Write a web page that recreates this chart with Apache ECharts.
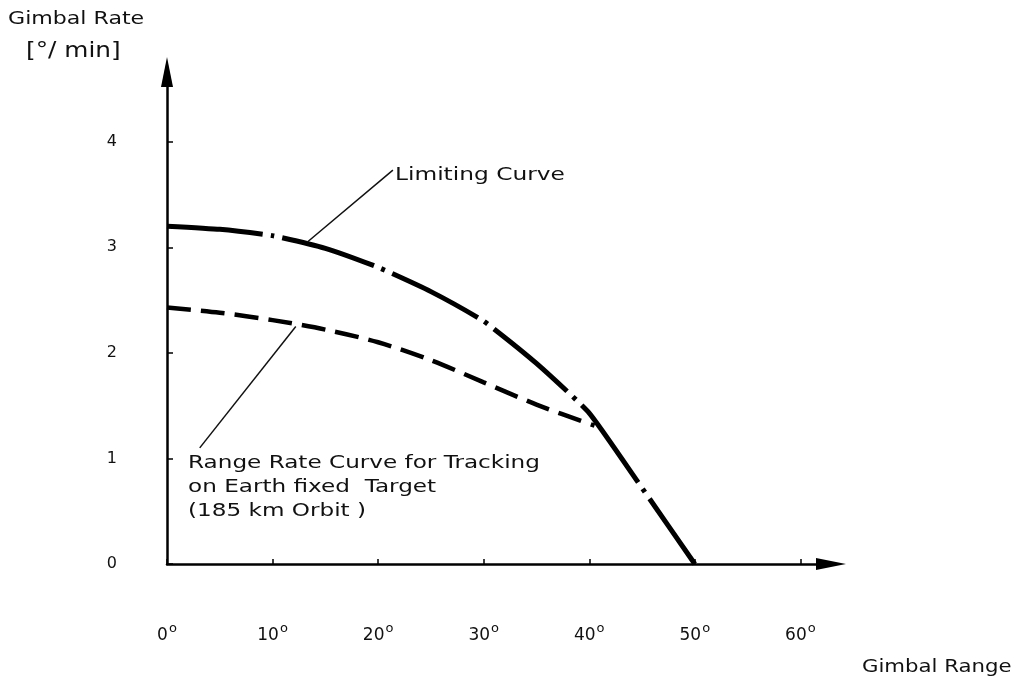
<!DOCTYPE html>
<html>
<head>
<meta charset="utf-8">
<script src="https://cdn.jsdelivr.net/npm/echarts@6/dist/echarts.min.js"></script>
<style>
  html, body { margin: 0; padding: 0; background: #fff; }
  #chart { width: 1022px; height: 685px; }
</style>
</head>
<body>
<div id="chart"></div>
<script>
  // gimbal range [deg] vs gimbal rate [deg/min]
  const limitX = [0, 5, 10, 15, 20, 25, 30, 35, 40, 45, 50]
  const limitY = [3.2, 3.17, 3.11, 2.99, 2.81, 2.58, 2.3, 1.9, 1.43, 0.72, 0]
  const trackX = [0, 5, 10, 15, 20, 25, 30, 35, 40.5]
  const trackY = [2.43, 2.38, 2.31, 2.22, 2.1, 1.93, 1.72, 1.51, 1.31]
  const xTicks = [0, 10, 20, 30, 40, 50, 60]
  const yTicks = [0, 1, 2, 3, 4]
  // leader lines, in data units
  const limitLeader = [[13.3, 3.05], [21.4, 3.73]]
  const trackLeader = [[12.2, 2.25], [3.1, 1.1]]

  const font = 'DejaVu Sans'
  const ink = '#111'

  const chart = echarts.init(document.getElementById('chart'), null, { renderer: 'canvas' })

  const pairs = (xs, ys) => xs.map((x, i) => [x, ys[i]])
  const leader = (p) => ({
    silent: true,
    symbol: 'none',
    animation: false,
    label: { show: false },
    lineStyle: { color: ink, width: 1.5, type: 'solid' },
    emphasis: { disabled: true },
    data: [[{ coord: p[0] }, { coord: p[1] }]]
  })
  // wide lettering of the original, stretched sideways
  const note = (text, x, y, size, sx, lh) => ({
    type: 'text', x: x, y: y, scaleX: sx,
    style: { text: text, font: size + 'px "DejaVu Sans"', fill: ink, lineHeight: lh || size, verticalAlign: 'top' }
  })

  chart.setOption({
    animation: false,
    grid: { left: 167, right: 191, top: 72, bottom: 121 },
    xAxis: {
      type: 'value',
      min: 0,
      max: 62.9,
      interval: 10,
      splitLine: { show: false },
      axisLine: {
        lineStyle: { color: '#000', width: 2.5 },
        symbol: ['none', 'triangle'],
        symbolSize: [12, 30]
      },
      axisTick: { inside: true, length: 5, lineStyle: { color: '#000', width: 1.5 }, customValues: xTicks },
      axisLabel: {
        customValues: xTicks,
        margin: 58,
        formatter: v => '{n|' + v + '}{s|o}',
        rich: {
          n: { fontFamily: font, fontSize: 17, color: ink },
          s: { fontFamily: font, fontSize: 13, color: ink, padding: [0, 0, 15, 1] }
        }
      }
    },
    yAxis: {
      type: 'value',
      min: 0,
      max: 4.66,
      interval: 1,
      splitLine: { show: false },
      axisLine: {
        lineStyle: { color: '#000', width: 2.5 },
        symbol: ['none', 'triangle'],
        symbolSize: [12, 30]
      },
      axisTick: { inside: true, length: 6, lineStyle: { color: '#000', width: 1.5 }, customValues: yTicks },
      axisLabel: {
        customValues: yTicks,
        margin: 50,
        fontFamily: font,
        fontSize: 16,
        color: ink
      }
    },
    series: [
      {
        name: 'Limiting Curve',
        type: 'line',
        data: pairs(limitX, limitY),
        showSymbol: false,
        smooth: 0.15,
        lineStyle: { color: '#000', width: 5, type: [96, 8, 4, 8] },
        markLine: leader(limitLeader)
      },
      {
        name: 'Range Rate Curve',
        type: 'line',
        data: pairs(trackX, trackY),
        showSymbol: false,
        smooth: 0.3,
        lineStyle: { color: '#000', width: 4.5, type: [24, 10] },
        markLine: leader(trackLeader)
      }
    ],
    graphic: [
      note('Gimbal Rate', 8, 11, 17, 1.3),
      note('[°/ min]', 26, 41, 21, 1.18),
      note('Limiting Curve', 395, 167, 17, 1.37),
      note('Range Rate Curve for Tracking\non Earth fixed  Target\n(185 km Orbit )', 188, 452, 17, 1.36, 24),
      note('Gimbal Range', 862, 659, 17, 1.25)
    ]
  })
</script>
</body>
</html>
